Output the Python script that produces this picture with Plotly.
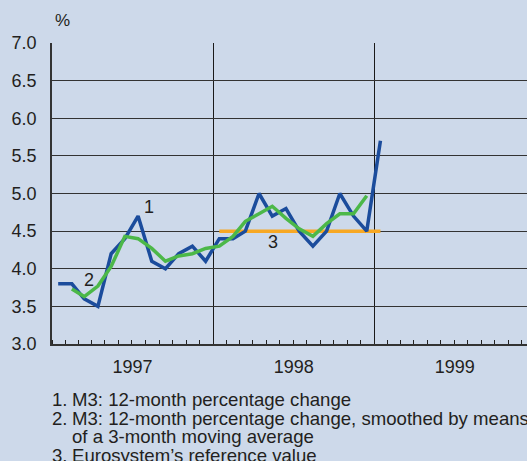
import plotly.graph_objects as go

months = ["1997-01-15", "1997-02-15", "1997-03-15", "1997-04-15", "1997-05-15", "1997-06-15",
          "1997-07-15", "1997-08-15", "1997-09-15", "1997-10-15", "1997-11-15", "1997-12-15",
          "1998-01-15", "1998-02-15", "1998-03-15", "1998-04-15", "1998-05-15", "1998-06-15",
          "1998-07-15", "1998-08-15", "1998-09-15", "1998-10-15", "1998-11-15", "1998-12-15",
          "1999-01-15"]

m3_growth = [3.8, 3.8, 3.6, 3.5, 4.2, 4.4, 4.7, 4.1, 4.0, 4.2, 4.3, 4.1,
             4.4, 4.4, 4.5, 5.0, 4.7, 4.8, 4.5, 4.3, 4.5, 5.0, 4.7, 4.5, 5.7]

m3_smoothed_months = months[1:24]
m3_smoothed = [3.73, 3.63, 3.77, 4.03, 4.43, 4.40, 4.27, 4.10, 4.17, 4.20, 4.27,
               4.30, 4.43, 4.63, 4.73, 4.83, 4.67, 4.53, 4.43, 4.60, 4.73, 4.73, 4.97]

ref_months = ["1998-01-15", "1999-01-15"]
ref_value = [4.5, 4.5]

y_ticks = [3.0, 3.5, 4.0, 4.5, 5.0, 5.5, 6.0, 6.5, 7.0]

footnotes = [
    ("1.", "M3: 12-month percentage change"),
    ("2.", "M3: 12-month percentage change, smoothed by means"),
    ("", "of a 3-month moving average"),
    ("3.", "Eurosystem\u2019s reference value"),
]

BG = "#cdd9ea"
TXT = "#231f20"
FONT = "Liberation Sans, Arial, sans-serif"

fig = go.Figure()
fig.add_trace(go.Scatter(x=ref_months, y=ref_value, mode="lines",
                         line=dict(color="#f7a823", width=3.5), hoverinfo="skip"))
fig.add_trace(go.Scatter(x=months, y=m3_growth, mode="lines",
                         line=dict(color="#1b4c9c", width=3.5), hoverinfo="skip"))
fig.add_trace(go.Scatter(x=m3_smoothed_months, y=m3_smoothed, mode="lines",
                         line=dict(color="#4cb848", width=3.5), hoverinfo="skip"))

fig.update_layout(
    width=527, height=461,
    margin=dict(l=52, r=0, t=43, b=117),
    paper_bgcolor=BG, plot_bgcolor=BG,
    showlegend=False,
    font=dict(family=FONT, size=18, color=TXT),
    xaxis=dict(
        type="date",
        range=["1997-01-01", "1999-12-13"],
        tick0="1997-01-01", dtick="M12",
        ticklabelmode="period", tickformat="%Y",
        showgrid=True, gridcolor="#1a1a1a", gridwidth=1,
        ticks="inside", ticklen=4, tickcolor="#222222", tickwidth=1.2,
        minor=dict(dtick="M1", tick0="1997-01-01", ticks="inside", ticklen=4,
                   tickcolor="#222222", tickwidth=1.2, showgrid=False),
        showline=True, linecolor="#333333", linewidth=1.5,
        zeroline=False, fixedrange=True,
        ticklabelstandoff=6,
    ),
    yaxis=dict(
        range=[3.0, 7.0],
        tickvals=y_ticks, tickformat=".1f",
        showgrid=True, gridcolor="#333333", gridwidth=1.2,
        showline=True, linecolor="#333333", linewidth=1.5,
        ticks="", zeroline=False, fixedrange=True,
        ticklabelstandoff=10,
    ),
)

fig.add_annotation(x=0.002, y=1.076, xref="paper", yref="paper", text="%",
                   showarrow=False, xanchor="left", yanchor="middle", font=dict(size=17))

fig.add_annotation(x="1997-08-08", y=4.82, text="1", showarrow=False, font=dict(size=18))
fig.add_annotation(x="1997-03-25", y=3.85, text="2", showarrow=False, font=dict(size=18))
fig.add_annotation(x="1998-05-17", y=4.35, text="3", showarrow=False, font=dict(size=18))

line_y = [-0.186, -0.248, -0.308, -0.369]
for (num, txt), yy in zip(footnotes, line_y):
    if num:
        fig.add_annotation(x=-0.004, y=yy, xref="paper", yref="paper", text=num,
                           showarrow=False, xanchor="left", yanchor="middle", font=dict(size=18.6))
    fig.add_annotation(x=0.0379, y=yy, xref="paper", yref="paper", text=txt,
                       showarrow=False, xanchor="left", yanchor="middle", font=dict(size=18.6))

fig.write_html("out.html", config={"displayModeBar": False},
               post_script="document.body.style.margin='0';document.body.style.overflow='hidden';")
